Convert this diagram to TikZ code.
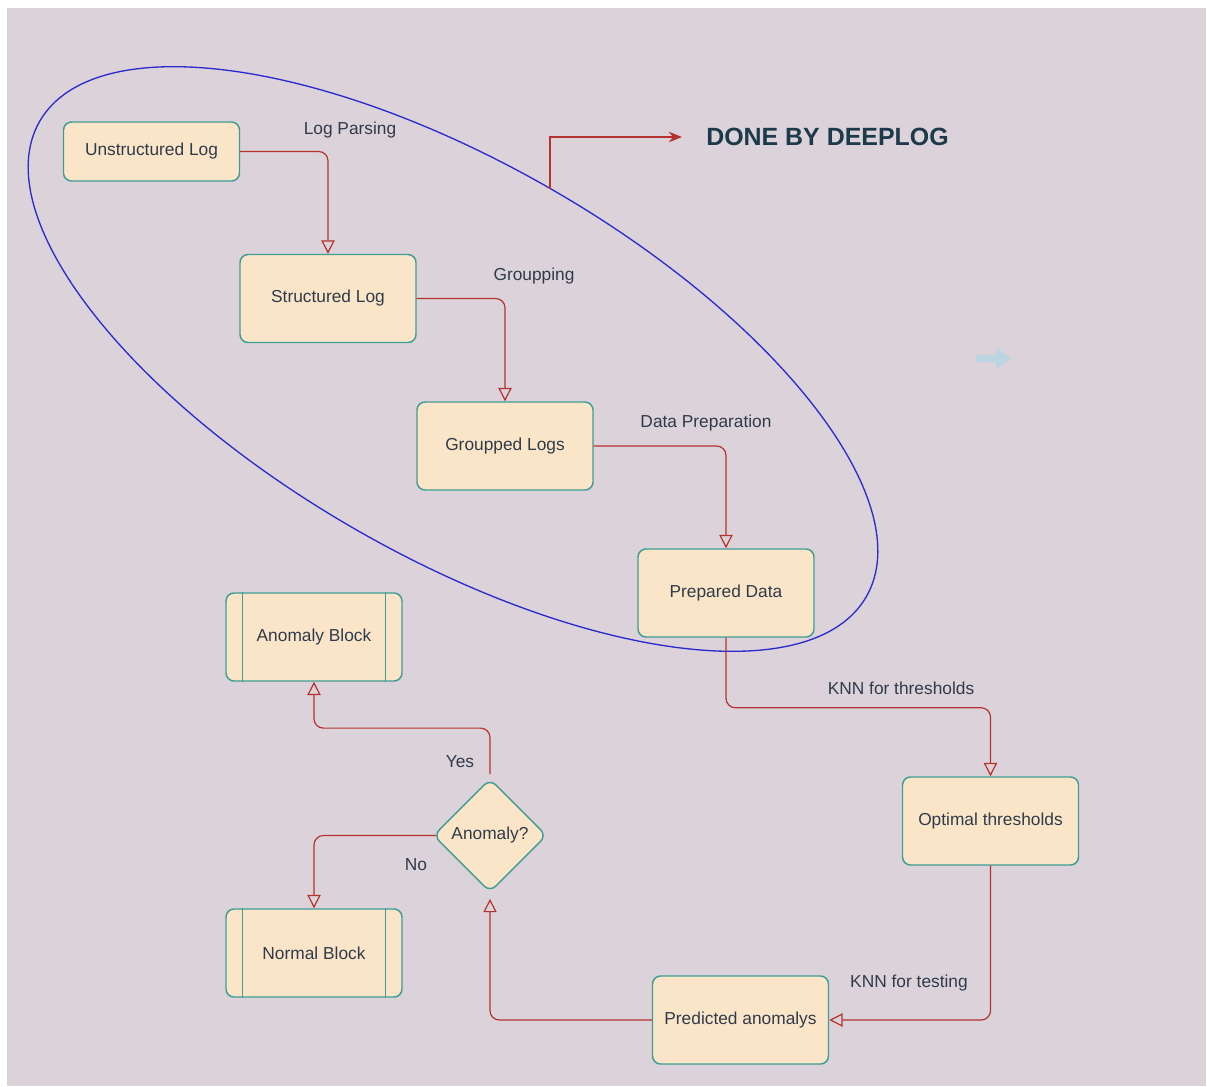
\documentclass[tikz,border=0pt]{standalone}
\usepackage{fontspec}
\setmainfont{Liberation Sans}
\usetikzlibrary{arrows.meta,shapes.geometric}
\definecolor{bgc}{HTML}{DCD2DA}
\definecolor{boxfill}{HTML}{FBE5C8}
\definecolor{boxline}{HTML}{3D9E94}
\definecolor{edgec}{HTML}{B5332E}
\definecolor{ellc}{HTML}{2B2BCF}
\definecolor{txtc}{HTML}{303B4A}
\definecolor{titlec}{HTML}{1C3A4A}
\definecolor{hintc}{HTML}{BCD5E2}
\tikzset{
  procbox/.style={draw=boxline, line width=1.1pt, fill=boxfill, rounded corners=6pt,
    minimum width=132pt, minimum height=66pt, inner sep=0pt,
    font=\fontsize{13pt}{15pt}\selectfont, text=txtc},
  decbox/.style={diamond, draw=boxline, line width=1.1pt, fill=boxfill, rounded corners=6pt,
    minimum width=85pt, minimum height=85pt, inner sep=0pt,
    font=\fontsize{13pt}{15pt}\selectfont, text=txtc},
  flow/.style={draw=edgec, line width=0.9pt, rounded corners=7pt,
    -{Triangle[open, length=10pt, width=10pt, line width=0.9pt]}},
  lbl/.style={font=\fontsize{13pt}{15pt}\selectfont, text=txtc, inner sep=0pt},
  sideline/.style={draw=boxline, line width=1.1pt}
}
\begin{document}
\begin{tikzpicture}[x=0.75pt, y=-0.75pt]
\useasboundingbox (0,0) rectangle (1207,1086);
\fill[white] (0,0) rectangle (1207,1086);
\fill[bgc] (7,8) rectangle (1206,1086);

% grouping ellipse
\draw[ellc, line width=1pt, rotate around={-29.9:(453,359)}] (453,359) ellipse [x radius=357.6pt, y radius=147.2pt];

% nodes
\node[procbox, minimum height=44.25pt] (unst) at (151.5,151.5) {Unstructured Log};
\node[procbox] (struct) at (328,298.5) {Structured Log};
\node[procbox] (group) at (505,446) {Groupped Logs};
\node[procbox] (prep) at (726,593) {Prepared Data};
\node[procbox] (opt) at (990.5,821) {Optimal thresholds};
\node[procbox] (pred) at (740.5,1020) {Predicted anomalys};
\node[procbox] (ablock) at (314,637) {Anomaly Block};
\node[procbox] (nblock) at (314,953) {Normal Block};
\node[decbox] (dec) at (490,835.5) {Anomaly?};

% inner side lines of block nodes
\draw[sideline] ([xshift=12.75pt]ablock.north west) -- ([xshift=12.75pt]ablock.south west);
\draw[sideline] ([xshift=-12.75pt]ablock.north east) -- ([xshift=-12.75pt]ablock.south east);
\draw[sideline] ([xshift=12.75pt]nblock.north west) -- ([xshift=12.75pt]nblock.south west);
\draw[sideline] ([xshift=-12.75pt]nblock.north east) -- ([xshift=-12.75pt]nblock.south east);

% connectors
\draw[flow] (unst.east) -| (struct.north);
\draw[flow] (struct.east) -| (group.north);
\draw[flow] (group.east) -| (prep.north);
\draw[flow] (prep.south) -- ++(0,70) -| (opt.north);
\draw[flow] (opt.south) |- (pred.east);
\draw[flow] (pred.west) -| ([yshift=-4.5pt]dec.south);
\draw[flow] ([yshift=3pt]dec.north) -- ++(0,-46) -| (ablock.south);
\draw[flow] ([xshift=2.5pt]dec.west) -| (nblock.north);

% edge labels
\node[lbl] (l1) at (350,130) {Log Parsing};
\node[lbl] (l2) at (534,276) {Groupping};
\node[lbl] (l3) at (706,423) {Data Preparation};
\node[lbl] (l4) at (901,688) {KNN for thresholds};
\node[lbl] (l5) at (909,983) {KNN for testing};
\node[lbl] (l6) at (460,762) {Yes};
\node[lbl] (l7) at (416,865) {No};

% title and pointer
\node[anchor=west, inner sep=0pt, text=titlec, font=\fontsize{18.7pt}{22pt}\selectfont\bfseries] (title) at (706,137) {DONE BY DEEPLOG};
\coordinate (ellpt) at (550,189);
\draw[edgec, line width=0.9pt, -{Stealth[length=10pt, width=8pt]}] (ellpt) |- ([xshift=-18pt]title.west);

% faint hint arrow
\fill[hintc] (976,355) -- (996,355) -- (996,348) -- (1011,358.5) -- (996,369) -- (996,362) -- (976,362) -- cycle;
\end{tikzpicture}
\end{document}
